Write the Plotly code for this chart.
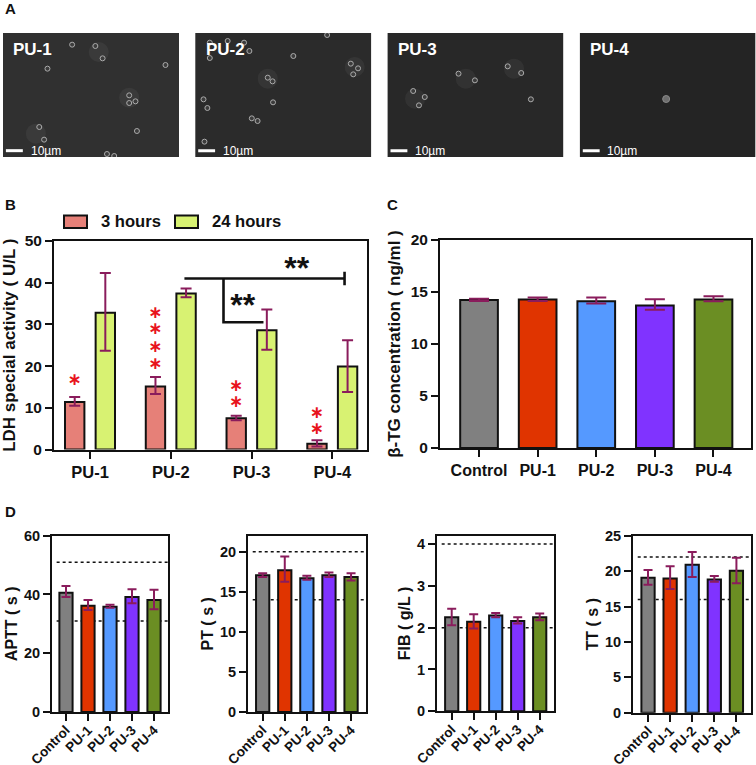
import plotly.graph_objects as go

W, H = 756, 765
FONT = "Liberation Sans"
INK = "#111111"
ERR = "#8A1C5C"

# Panel A: features
sem_names = ["PU-1", "PU-2", "PU-3", "PU-4"]
sem_xrange = [[7, 371], [405, 769], [803, 1167], [1201, 1565]]
sem_bg = ["#303030", "#2B2B2B", "#282828", "#242424"]
sem_rings_x = [
    [150, 198, 213, 99, 343, 268, 281, 268, 82, 92, 284, 222, 237],
    [678, 472, 506, 435, 517, 435, 608, 727, 742, 732, 555, 565, 422, 430, 566, 522, 534, 424],
    [950, 984, 1052, 1080, 856, 880, 868, 1100],
    [],
]
sem_rings_y = [
    [133, 137, 174, 205, 194, 285, 303, 308, 380, 418, 392, 461, 467],
    [104, 122, 127, 127, 152, 173, 167, 190, 204, 222, 232, 243, 297, 323, 306, 354, 362, 424],
    [220, 240, 198, 218, 272, 290, 315, 297],
    [],
]
sem_halo_x = [[268, 205, 75], [735, 555], [860, 1065, 965], []]
sem_halo_y = [[292, 155, 400], [200, 235], [295, 205, 235], []]
pu4_spot_x = [1380]
pu4_spot_y = [296]

# Panel B
b_groups = ["PU-1", "PU-2", "PU-3", "PU-4"]
b_pos = [0, 1, 2, 3]
h3_mean = [11.4, 15.1, 7.5, 1.4]
h3_up = [12.6, 17.4, 8.1, 2.2]
h3_lo = [10.5, 13.3, 7.0, 0.7]
h24_mean = [32.8, 37.4, 28.6, 19.9]
h24_up = [42.3, 38.6, 33.6, 26.2]
h24_lo = [23.7, 36.5, 23.9, 13.8]
red_x = [-0.19, 0.81, 0.81, 0.81, 0.81, 1.81, 1.81, 2.81, 2.81]
red_y = [16.4, 32.5, 28.6, 24.5, 20.4, 15.0, 11.2, 8.6, 4.8]
br1_x = [1.169, 3.152]
br1_y = [41, 41]
br1_end_x = [3.152, 3.152]
br1_end_y = [39.4, 42.6]
br2_x = [1.653, 1.653, 2.148]
br2_y = [41, 30.5, 30.5]
sig_x = [2.56, 1.89]
sig_y = [42.8, 34.0]

# Shared groups
groups = ["Control", "PU-1", "PU-2", "PU-3", "PU-4"]
colors = ["#808080", "#E03400", "#5599FF", "#8033FF", "#6B8E23"]

# Panel C
c_mean = [14.24, 14.27, 14.1, 13.7, 14.27]
c_up = [14.34, 14.46, 14.46, 14.3, 14.6]
c_lo = [14.14, 14.14, 13.9, 13.3, 14.1]

# Panel D
aptt_mean = [40.6, 36.2, 35.8, 39.1, 38.1]
aptt_up = [42.9, 38.1, 36.5, 41.8, 41.6]
aptt_lo = [39.1, 34.7, 35.5, 37.0, 35.0]
pt_mean = [17.05, 17.7, 16.7, 17.05, 16.85]
pt_up = [17.3, 19.4, 17.0, 17.4, 17.3]
pt_lo = [16.85, 16.25, 16.5, 16.85, 16.4]
fib_mean = [2.25, 2.14, 2.29, 2.16, 2.25]
fib_up = [2.45, 2.32, 2.35, 2.25, 2.34]
fib_lo = [2.06, 1.98, 2.25, 2.10, 2.18]
tt_mean = [19.07, 18.97, 20.9, 18.83, 20.05]
tt_up = [20.15, 20.7, 22.7, 19.3, 21.9]
tt_lo = [18.08, 17.47, 19.16, 18.5, 18.3]

fig = go.Figure()
layout = {}
shapes = []
annotations = []


def dom_x(a, b):
    return [a / W, b / W]


def dom_y(top, bottom):
    return [1 - bottom / H, 1 - top / H]


def sx(i):
    return "x" if i == 1 else f"x{i}"


def sy(i):
    return "y" if i == 1 else f"y{i}"


def err(mean, up, lo, cap):
    return dict(
        type="data", symmetric=False,
        array=[u - m for u, m in zip(up, mean)],
        arrayminus=[m - l for m, l in zip(mean, lo)],
        color=ERR, thickness=2, width=cap, visible=True,
    )


def chart_axes(i, box, xr, yr, ytv, xtv, xtt, title, fs, yfs, tfs, angle, standoff, **xextra):
    layout[f"xaxis{i}"] = dict(
        domain=dom_x(box[0], box[1]), range=xr, anchor=sy(i),
        tickmode="array", tickvals=xtv, ticktext=xtt, tickangle=angle,
        ticks="outside", ticklen=7, tickwidth=2, tickcolor=INK,
        showline=True, linewidth=2, linecolor=INK, mirror=True,
        showgrid=False, zeroline=False, automargin=False,
        tickfont=dict(family=FONT, size=fs, color=INK, weight=700),
        **xextra,
    )
    layout[f"yaxis{i}"] = dict(
        domain=dom_y(box[2], box[3]), range=yr, anchor=sx(i),
        tickmode="array", tickvals=ytv,
        ticks="outside", ticklen=7, tickwidth=2, tickcolor=INK,
        showline=True, linewidth=2, linecolor=INK, mirror=True,
        showgrid=False, zeroline=False, automargin=False,
        tickfont=dict(family=FONT, size=yfs, color=INK, weight=700),
        title=dict(text=title, standoff=standoff,
                   font=dict(family=FONT, size=tfs, color=INK, weight=700)),
    )


# ---- Panel A
for k, name in enumerate(sem_names):
    i = k + 1
    xr = sem_xrange[k]
    layout[f"xaxis{i}"] = dict(domain=dom_x(3 + k * 192.3, 179 + k * 192.1), range=xr,
                               anchor=sy(i), visible=False)
    layout[f"yaxis{i}"] = dict(domain=dom_y(33, 157), range=[470, 98],
                               anchor=sx(i), visible=False)
    shapes.append(dict(type="rect", xref=f"{sx(i)} domain", yref=f"{sy(i)} domain",
                       x0=0, x1=1, y0=0, y1=1, fillcolor=sem_bg[k],
                       line=dict(width=0), layer="below"))
    if sem_halo_x[k]:
        fig.add_trace(go.Scatter(x=sem_halo_x[k], y=sem_halo_y[k], mode="markers",
                                 xaxis=sx(i), yaxis=sy(i), showlegend=False,
                                 marker=dict(size=20, color="rgba(255,255,255,0.05)")))
    if sem_rings_x[k]:
        fig.add_trace(go.Scatter(x=sem_rings_x[k], y=sem_rings_y[k], mode="markers",
                                 xaxis=sx(i), yaxis=sy(i), showlegend=False,
                                 marker=dict(size=5, color="#3C3C3C",
                                             line=dict(width=1, color="#ABABAB"))))
    annotations.append(dict(text=name, xref=sx(i), yref=sy(i), x=xr[0] + 62, y=148,
                            showarrow=False,
                            font=dict(family=FONT, size=17, color="white", weight=700)))
    shapes.append(dict(type="line", xref=sx(i), yref=sy(i), x0=xr[0] + 6, x1=xr[0] + 41,
                       y0=451, y1=451, line=dict(color="white", width=3)))
    annotations.append(dict(text="10µm", xref=sx(i), yref=sy(i), x=xr[0] + 53, y=451,
                            xanchor="left", showarrow=False,
                            font=dict(family=FONT, size=12, color="white")))
fig.add_trace(go.Scatter(x=pu4_spot_x, y=pu4_spot_y, mode="markers", xaxis="x4", yaxis="y4",
                         showlegend=False,
                         marker=dict(size=7, color="#6E6E6E", line=dict(width=1, color="#8A8A8A"))))

# ---- Panel B
chart_axes(5, (54, 367, 241, 449.5), [-0.446, 3.43], [0, 50], [0, 10, 20, 30, 40, 50],
           b_pos, b_groups, "LDH special activity ( U/L )", 16.5, 15.5, 17, 0, 6)
fig.add_trace(go.Bar(x=b_pos, y=h3_mean, name="3 hours", xaxis="x5", yaxis="y5",
                     marker=dict(color="#E68078", line=dict(color=INK, width=2)),
                     error_y=err(h3_mean, h3_up, h3_lo, 5.5), showlegend=False))
fig.add_trace(go.Bar(x=b_pos, y=h24_mean, name="24 hours", xaxis="x5", yaxis="y5",
                     marker=dict(color="#D8F272", line=dict(color=INK, width=2)),
                     error_y=err(h24_mean, h24_up, h24_lo, 5.5), showlegend=False))
fig.add_trace(go.Scatter(x=red_x, y=red_y, mode="text", text=["∗"] * len(red_x),
                         xaxis="x5", yaxis="y5", showlegend=False, textposition="middle center",
                         textfont=dict(family="DejaVu Sans", size=17, color="#E8141C", weight=700)))
for xs, ys in [(br1_x, br1_y), (br1_end_x, br1_end_y), (br2_x, br2_y)]:
    fig.add_trace(go.Scatter(x=xs, y=ys, mode="lines", xaxis="x5", yaxis="y5", showlegend=False,
                             line=dict(color=INK, width=2.6)))
fig.add_trace(go.Scatter(x=sig_x, y=sig_y, mode="text", text=["**", "**"],
                         xaxis="x5", yaxis="y5", showlegend=False, textposition="middle center",
                         textfont=dict(family=FONT, size=32, color=INK, weight=700)))
# legend drawn to size
for x0, x1, col, label, tx in [(64, 87, "#E68078", "3 hours", 99), (175, 198, "#D8F272", "24 hours", 210)]:
    shapes.append(dict(type="rect", xref="paper", yref="paper", x0=x0 / W, x1=x1 / W,
                       y0=1 - 228 / H, y1=1 - 215.5 / H, fillcolor=col,
                       line=dict(color=INK, width=2)))
    annotations.append(dict(text=label, xref="paper", yref="paper", x=tx / W, y=1 - 221.5 / H,
                            xanchor="left", yanchor="middle", showarrow=False,
                            font=dict(family=FONT, size=16.6, color=INK, weight=700)))

# ---- Panel C
pos = [0, 1, 2, 3, 4]
chart_axes(6, (440, 751, 240, 448), [-0.666, 4.64], [0, 20], [0, 5, 10, 15, 20],
           pos, groups, "β-TG concentration ( ng/ml )", 16, 15.5, 17, 0, 6)
fig.add_trace(go.Bar(x=pos, y=c_mean, xaxis="x6", yaxis="y6", width=0.643, showlegend=False,
                     marker=dict(color=colors, line=dict(color=INK, width=2)),
                     error_y=err(c_mean, c_up, c_lo, 10)))

# ---- Panel D
d_panels = [
    (7, (52, 168, 535.7, 712), [-0.636, 4.636], [0, 60], [0, 20, 40, 60], "APTT ( s )", aptt_mean, aptt_up, aptt_lo, [51, 31]),
    (8, (248, 366, 535.7, 712), [-0.664, 4.676], [0, 22], [0, 5, 10, 15, 20], "PT ( s )", pt_mean, pt_up, pt_lo, [20, 14]),
    (9, (437, 553.7, 535.7, 711.3), [-0.668, 4.636], [0, 4.2], [0, 1, 2, 3, 4], "FIB ( g/L )", fib_mean, fib_up, fib_lo, [4, 2]),
    (10, (633, 751, 535.7, 712.7), [-0.68, 4.66], [0, 25], [0, 5, 10, 15, 20, 25], "TT ( s )", tt_mean, tt_up, tt_lo, [22, 16]),
]
for i, box, xr, yr, ytv, title, mean, up, lo, refs in d_panels:
    chart_axes(i, box, xr, yr, ytv, pos, groups, title, 13.5, 14.5, 16, -45, 2,
               ticklabelstandoff=-4, ticklabelshift=0)
    fig.add_trace(go.Bar(x=pos, y=mean, xaxis=f"x{i}", yaxis=f"y{i}", width=0.6, showlegend=False,
                         marker=dict(color=colors, line=dict(color=INK, width=2)),
                         error_y=err(mean, up, lo, 4.5)))
    for r in refs:
        shapes.append(dict(type="line", xref=f"x{i} domain", yref=f"y{i}", x0=0.04, x1=1,
                           y0=r, y1=r, layer="below",
                           line=dict(color=INK, width=1.5, dash="dot")))

# panel letters
for letter, x, y in [("A", 3, 9), ("B", 3, 205), ("C", 385, 205), ("D", 3, 512)]:
    annotations.append(dict(text=letter, xref="paper", yref="paper", x=x / W, y=1 - y / H,
                            xanchor="left", yanchor="middle", showarrow=False,
                            font=dict(family=FONT, size=15, color=INK, weight=700)))

layout["xaxis"] = layout.pop("xaxis1")
layout["yaxis"] = layout.pop("yaxis1")
fig.update_layout(
    width=W, height=H, margin=dict(l=0, r=0, t=0, b=0),
    paper_bgcolor="white", plot_bgcolor="white",
    barmode="group", bargap=0.242, bargroupgap=0.367,
    shapes=shapes, annotations=annotations, showlegend=False,
    **layout,
)
fig.write_html("out.html", post_script="document.body.style.margin='0';",
               config={"displayModeBar": False})
